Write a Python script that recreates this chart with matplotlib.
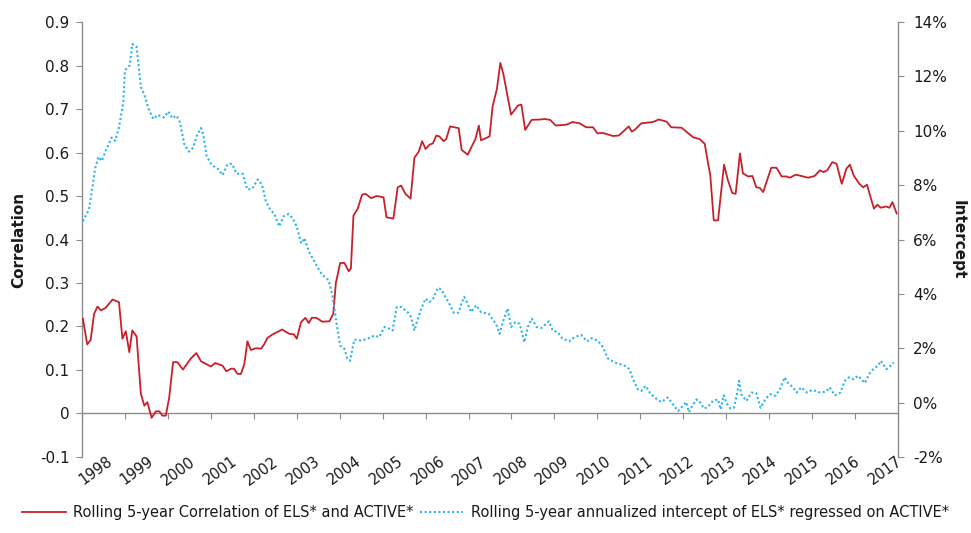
import matplotlib
matplotlib.use("Agg")
import matplotlib.pyplot as plt
from matplotlib.ticker import FuncFormatter, MultipleLocator
from matplotlib.transforms import ScaledTranslation
from matplotlib.lines import Line2D

plt.rcParams['font.family'] = ['DejaVu Sans']

# Rolling 5-year correlation (left axis)
corr_t = [1998.02, 1998.12, 1998.20, 1998.28, 1998.36, 1998.44, 1998.55, 1998.71, 1998.86, 1998.94,
          1999.02, 1999.10, 1999.17, 1999.27, 1999.37, 1999.45, 1999.52, 1999.62, 1999.72, 1999.80,
          1999.87, 1999.95, 2000.03, 2000.12, 2000.22, 2000.35, 2000.53, 2000.66, 2000.77, 2001.00,
          2001.10, 2001.27, 2001.36, 2001.47, 2001.54, 2001.62, 2001.70, 2001.78, 2001.85, 2001.93,
          2002.05, 2002.17, 2002.24, 2002.32, 2002.44, 2002.66, 2002.83, 2002.93, 2003.00, 2003.10,
          2003.20, 2003.28, 2003.35, 2003.45, 2003.60, 2003.76, 2003.85, 2003.91, 2004.01, 2004.11,
          2004.21, 2004.26, 2004.32, 2004.42, 2004.52, 2004.60, 2004.73, 2004.86, 2005.02, 2005.09,
          2005.25, 2005.35, 2005.43, 2005.53, 2005.65, 2005.74, 2005.84, 2005.92, 2006.00, 2006.09,
          2006.17, 2006.25, 2006.32, 2006.42, 2006.48, 2006.57, 2006.73, 2006.77, 2006.84, 2006.98,
          2007.16, 2007.24, 2007.29, 2007.49, 2007.56, 2007.66, 2007.74, 2007.81, 2007.99, 2008.15,
          2008.23, 2008.32, 2008.47, 2008.69, 2008.77, 2008.90, 2009.03, 2009.28, 2009.42, 2009.59,
          2009.74, 2009.90, 2010.00, 2010.13, 2010.36, 2010.50, 2010.73, 2010.80, 2010.87, 2011.02,
          2011.29, 2011.43, 2011.61, 2011.72, 2011.96, 2012.23, 2012.38, 2012.50, 2012.58, 2012.63,
          2012.71, 2012.81, 2012.95, 2013.04, 2013.14, 2013.22, 2013.32, 2013.39, 2013.51, 2013.61,
          2013.70, 2013.78, 2013.86, 2014.05, 2014.17, 2014.29, 2014.40, 2014.48, 2014.62, 2014.75,
          2014.91, 2015.06, 2015.18, 2015.27, 2015.36, 2015.47, 2015.57, 2015.69, 2015.80, 2015.88,
          2015.97, 2016.10, 2016.19, 2016.28, 2016.35, 2016.44, 2016.52, 2016.60, 2016.72, 2016.80,
          2016.87, 2016.97]
corr_v = [0.218, 0.159, 0.169, 0.229, 0.246, 0.237, 0.243, 0.262, 0.256, 0.172,
          0.189, 0.141, 0.191, 0.177, 0.045, 0.018, 0.026, -0.010, 0.005, 0.005,
          -0.005, -0.005, 0.037, 0.118, 0.118, 0.101, 0.126, 0.139, 0.120, 0.108,
          0.116, 0.110, 0.097, 0.103, 0.103, 0.091, 0.091, 0.114, 0.166, 0.146,
          0.150, 0.149, 0.159, 0.174, 0.182, 0.193, 0.183, 0.182, 0.172, 0.210,
          0.220, 0.208, 0.220, 0.220, 0.211, 0.212, 0.229, 0.300, 0.346, 0.346,
          0.327, 0.333, 0.455, 0.471, 0.503, 0.505, 0.495, 0.500, 0.497, 0.451,
          0.448, 0.520, 0.524, 0.505, 0.494, 0.588, 0.602, 0.626, 0.608, 0.618,
          0.621, 0.639, 0.637, 0.626, 0.631, 0.660, 0.657, 0.656, 0.606, 0.595,
          0.631, 0.662, 0.628, 0.637, 0.706, 0.746, 0.806, 0.781, 0.687, 0.708,
          0.710, 0.652, 0.675, 0.676, 0.677, 0.675, 0.662, 0.664, 0.670, 0.667,
          0.658, 0.658, 0.644, 0.645, 0.638, 0.639, 0.660, 0.648, 0.652, 0.667,
          0.670, 0.676, 0.671, 0.658, 0.657, 0.635, 0.631, 0.620, 0.574, 0.547,
          0.444, 0.444, 0.572, 0.536, 0.507, 0.505, 0.598, 0.552, 0.545, 0.546,
          0.520, 0.519, 0.509, 0.565, 0.565, 0.545, 0.545, 0.542, 0.549, 0.546,
          0.542, 0.546, 0.559, 0.555, 0.560, 0.578, 0.574, 0.528, 0.563, 0.572,
          0.547, 0.528, 0.520, 0.526, 0.501, 0.471, 0.480, 0.473, 0.476, 0.473,
          0.486, 0.460]

# Rolling 5-year annualized intercept, % (right axis)
icpt_t = [1998.02, 1998.16, 1998.24, 1998.30, 1998.38, 1998.46, 1998.55, 1998.69, 1998.77, 1998.86,
          1998.96, 1999.00, 1999.11, 1999.17, 1999.27, 1999.37, 1999.45, 1999.55, 1999.66, 1999.76,
          1999.91, 2000.01, 2000.10, 2000.20, 2000.28, 2000.38, 2000.49, 2000.59, 2000.67, 2000.77,
          2000.83, 2000.90, 2001.02, 2001.18, 2001.27, 2001.39, 2001.49, 2001.60, 2001.74, 2001.85,
          2001.96, 2002.09, 2002.19, 2002.28, 2002.38, 2002.48, 2002.59, 2002.69, 2002.81, 2002.90,
          2003.00, 2003.10, 2003.18, 2003.28, 2003.37, 2003.49, 2003.60, 2003.74, 2003.83, 2003.91,
          2004.01, 2004.11, 2004.18, 2004.24, 2004.34, 2004.50, 2004.65, 2004.81, 2004.92, 2005.04,
          2005.16, 2005.23, 2005.33, 2005.43, 2005.58, 2005.66, 2005.74, 2005.82, 2005.90, 2006.00,
          2006.09, 2006.18, 2006.28, 2006.36, 2006.48, 2006.57, 2006.66, 2006.77, 2006.83, 2006.90,
          2006.98, 2007.06, 2007.18, 2007.29, 2007.47, 2007.56, 2007.64, 2007.72, 2007.81, 2007.91,
          2007.99, 2008.09, 2008.19, 2008.30, 2008.38, 2008.47, 2008.59, 2008.69, 2008.87, 2008.96,
          2009.08, 2009.18, 2009.34, 2009.47, 2009.62, 2009.76, 2009.86, 2010.01, 2010.13, 2010.24,
          2010.40, 2010.52, 2010.63, 2010.75, 2010.83, 2010.94, 2011.02, 2011.12, 2011.22, 2011.33,
          2011.49, 2011.64, 2011.76, 2011.88, 2011.99, 2012.07, 2012.13, 2012.21, 2012.31, 2012.40,
          2012.48, 2012.58, 2012.69, 2012.81, 2012.87, 2012.94, 2013.00, 2013.10, 2013.18, 2013.25,
          2013.30, 2013.35, 2013.47, 2013.59, 2013.70, 2013.80, 2013.92, 2014.03, 2014.15, 2014.26,
          2014.36, 2014.44, 2014.56, 2014.64, 2014.75, 2014.88, 2015.01, 2015.18, 2015.32, 2015.41,
          2015.53, 2015.66, 2015.76, 2015.86, 2015.97, 2016.07, 2016.23, 2016.33, 2016.44, 2016.54,
          2016.60, 2016.73, 2016.83, 2016.90]
icpt_v = [6.67, 7.10, 7.90, 8.58, 9.04, 8.89, 9.26, 9.75, 9.63, 10.12,
          11.05, 12.22, 12.41, 13.19, 13.09, 11.60, 11.33, 10.80, 10.43, 10.58,
          10.49, 10.71, 10.46, 10.56, 10.31, 9.51, 9.23, 9.38, 9.81, 10.10,
          9.81, 9.07, 8.74, 8.58, 8.37, 8.77, 8.79, 8.42, 8.42, 7.84,
          7.86, 8.21, 8.02, 7.41, 7.10, 6.94, 6.48, 6.85, 6.94, 6.79,
          6.48, 5.86, 6.05, 5.56, 5.31, 4.96, 4.69, 4.51, 3.95, 3.09,
          2.10, 1.98, 1.60, 1.54, 2.32, 2.28, 2.35, 2.47, 2.41, 2.78,
          2.72, 2.65, 3.52, 3.52, 3.33, 3.15, 2.65, 3.09, 3.46, 3.83,
          3.70, 3.83, 4.22, 4.17, 3.83, 3.58, 3.30, 3.31, 3.64, 3.89,
          3.64, 3.33, 3.58, 3.33, 3.27, 3.06, 2.90, 2.53, 3.02, 3.46,
          2.78, 2.96, 2.90, 2.22, 2.78, 3.09, 2.78, 2.74, 2.99, 2.65,
          2.59, 2.37, 2.25, 2.41, 2.49, 2.25, 2.37, 2.28, 2.04, 1.63,
          1.48, 1.42, 1.36, 1.23, 0.86, 0.49, 0.43, 0.62, 0.37, 0.19,
          0.02, 0.19, -0.06, -0.31, -0.12, 0.02, -0.35, -0.12, 0.12, 0.00,
          -0.22, -0.15, 0.06, 0.12, -0.25, 0.27, 0.00, -0.22, -0.19, 0.31,
          0.80, 0.31, 0.06, 0.37, 0.35, -0.19, 0.15, 0.31, 0.25, 0.52,
          0.93, 0.72, 0.56, 0.37, 0.56, 0.37, 0.47, 0.37, 0.40, 0.56,
          0.27, 0.37, 0.80, 0.93, 0.86, 0.99, 0.72, 1.05, 1.26, 1.36,
          1.54, 1.23, 1.36, 1.48]

years = list(range(1998, 2018))
year_labels = [str(y) for y in years]
label_corr = "Rolling 5-year Correlation of ELS* and ACTIVE*"
label_icpt = "Rolling 5-year annualized intercept of ELS* regressed on ACTIVE*"

RED = '#C8202B'
BLUE = '#2AB4EC'
GRAY = '#8C8C8C'
TXT = '#1A1A1A'

fig = plt.figure(figsize=(9.71, 5.33), dpi=100)
ax = fig.add_axes([0.0845, 0.1426, 0.8403, 0.8161])
ax2 = ax.twinx()

ax.plot(corr_t, corr_v, color=RED, lw=1.3, solid_joinstyle='round', zorder=3)
ax2.plot(icpt_t, icpt_v, color=BLUE, lw=1.5, linestyle=(0, (1, 1.2)), zorder=2)

ax.set_xlim(1998, 2017)
ax.set_ylim(-0.1, 0.9)
ax.yaxis.set_major_locator(MultipleLocator(0.1))
ax.yaxis.set_major_formatter(FuncFormatter(lambda v, p: "0" if abs(v) < 1e-9 else f"{v:.1f}"))
ax2.set_ylim(-2, 14)
ax2.yaxis.set_major_locator(MultipleLocator(2))
ax2.yaxis.set_major_formatter(FuncFormatter(lambda v, p: f"{v:.0f}%"))

ax.spines['top'].set_visible(False)
ax2.spines['top'].set_visible(False)
ax2.spines['bottom'].set_visible(False)
ax2.spines['left'].set_visible(False)
ax.spines['right'].set_visible(False)
ax.spines['bottom'].set_position(('data', 0))
for sp in [ax.spines['left'], ax.spines['bottom'], ax2.spines['right']]:
    sp.set_color(GRAY)
    sp.set_linewidth(1.0)

ax.set_xticks(years)
ax.set_xticklabels(year_labels, rotation=36, ha='right', va='top', rotation_mode='anchor')
ax.tick_params(axis='x', direction='out', length=4, color=GRAY, pad=25, labelsize=10.5, labelcolor=TXT)
ax.tick_params(axis='y', direction='out', length=4, color=GRAY, labelsize=11, labelcolor=TXT, pad=5)
ax2.tick_params(axis='y', direction='out', length=4, color=GRAY, labelsize=11, labelcolor=TXT, pad=7)

ax.set_ylabel("Correlation", fontsize=11, fontweight='bold', color=TXT, labelpad=10)
ax2.set_ylabel("Intercept", fontsize=11, fontweight='bold', color=TXT, rotation=-90, labelpad=13)

n = len(years)
for i, lab in enumerate(ax.get_xticklabels()):
    dx = (24 - 26 * i / (n - 1)) / 100
    lab.set_transform(lab.get_transform() + ScaledTranslation(dx, 0, fig.dpi_scale_trans))

handles = [Line2D([], [], color=RED, lw=1.3),
           Line2D([], [], color=BLUE, lw=1.5, linestyle=(0, (1, 1.2)))]
fig.legend(handles, [label_corr, label_icpt], loc='lower center', bbox_to_anchor=(0.5, 0.0),
           ncol=2, frameon=False, fontsize=10.5, handlelength=3.0, handletextpad=0.5,
           columnspacing=0.4, labelcolor=TXT)

fig.savefig("out.png", dpi=100)
